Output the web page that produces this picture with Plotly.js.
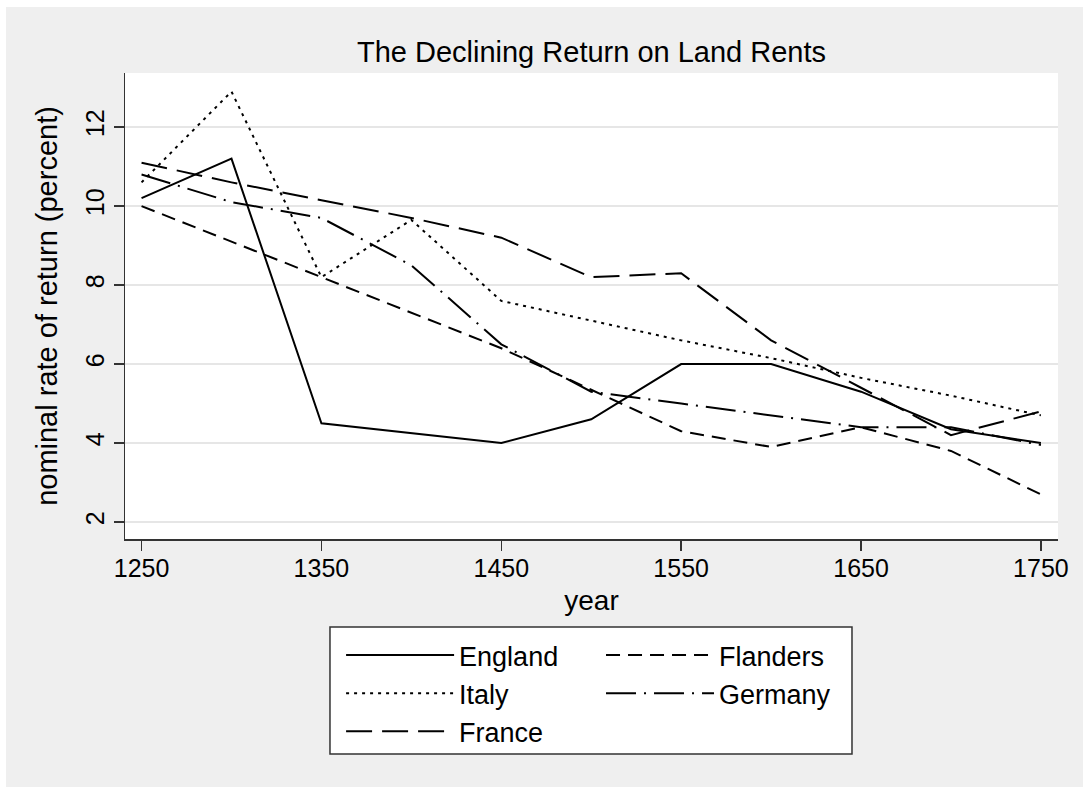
<!DOCTYPE html>
<html>
<head>
<meta charset="utf-8">
<script src="https://cdn.plot.ly/plotly-3.0.1.min.js"></script>
<style>
  html, body { margin: 0; padding: 0; background: #ffffff; }
  #chart { position: absolute; left: 6px; top: 7px; width: 1077px; height: 780px; }
</style>
</head>
<body>
<div id="chart"></div>
<script>
// ---- data ----
const years = [1250, 1300, 1350, 1400, 1450, 1500, 1550, 1600, 1650, 1700, 1750];

const englandYears = [1250, 1300, 1350, 1450, 1500, 1550, 1600, 1650, 1700, 1750];
const england      = [10.2, 11.2, 4.5, 4.0, 4.6, 6.0, 6.0, 5.3, 4.35, 4.0];

const flanders = [10.0, 9.1, 8.2, 7.3, 6.4, 5.35, 4.3, 3.9, 4.4, 3.8, 2.7];
const italy    = [10.6, 12.9, 8.2, 9.65, 7.6, 7.1, 6.6, 6.15, 5.65, 5.2, 4.7];
const germany  = [10.8, 10.1, 9.7, 8.5, 6.5, 5.3, 5.0, 4.7, 4.4, 4.4, 3.95];
const france   = [11.1, 10.6, 10.15, 9.7, 9.2, 8.2, 8.3, 6.6, 5.4, 4.2, 4.8];

const seriesNames = ["England", "Flanders", "Italy", "Germany", "France"];
const yTicks = [2, 4, 6, 8, 10, 12];
const xTicks = [1250, 1350, 1450, 1550, 1650, 1750];

const FONT = "Liberation Sans, Arial, Helvetica, sans-serif";

function mk(name, x, y, dash, legendId) {
  return {
    type: "scatter", mode: "lines", name: name, x: x, y: y,
    line: { color: "#000000", width: 2, dash: dash },
    legend: legendId,
    hoverinfo: "skip"
  };
}

// left legend column: England, Italy, France; right column: Flanders, Germany
const traces = [
  mk(seriesNames[0], englandYears, england, "solid", "legend"),
  mk(seriesNames[2], years, italy, "3px,5px", "legend"),
  mk(seriesNames[4], years, france, "26px,10px", "legend"),
  mk(seriesNames[1], years, flanders, "14px,8px", "legend2"),
  mk(seriesNames[3], years, germany, "30px,8px,2px,8px", "legend2")
];

const legendCommon = {
  orientation: "v",
  xref: "paper", yref: "paper",
  xanchor: "left", yanchor: "top",
  bgcolor: "rgba(0,0,0,0)", borderwidth: 0,
  font: { family: FONT, size: 27 },
  itemwidth: 108,
  tracegroupgap: 0,
  traceorder: "normal",
  itemclick: false, itemdoubleclick: false
};

const layout = {
  width: 1077, height: 780,
  paper_bgcolor: "#efefef",
  plot_bgcolor: "#ffffff",
  margin: { l: 119, r: 25, t: 66, b: 248 },
  font: { family: FONT, color: "#000000", size: 25 },
  title: {
    text: "The Declining Return on Land Rents",
    font: { family: FONT, size: 29, color: "#000000" },
    x: 0.5, xref: "paper", xanchor: "center",
    y: 1 - 45 / 780, yref: "container", yanchor: "middle"
  },
  xaxis: {
    range: [1240.8, 1759.5],
    tickvals: xTicks,
    ticktext: xTicks.map(String),
    ticks: "outside", ticklen: 10, tickwidth: 1.5, tickcolor: "#333333",
    ticklabelstandoff: -4,
    showline: true, linecolor: "#333333", linewidth: 1.5,
    showgrid: false, zeroline: false,
    tickfont: { family: FONT, size: 25 },
    title: { text: "year", font: { family: FONT, size: 28 }, standoff: 10 }
  },
  yaxis: {
    range: [1.57, 13.37],
    tickvals: yTicks,
    ticktext: yTicks.map(String),
    tickangle: -90,
    ticks: "outside", ticklen: 10, tickwidth: 1.5, tickcolor: "#333333",
    showline: true, linecolor: "#333333", linewidth: 1.5,
    showgrid: true, gridcolor: "#e6e6e6", gridwidth: 2,
    zeroline: false,
    tickfont: { family: FONT, size: 25 },
    title: { text: "nominal rate of return (percent)", font: { family: FONT, size: 29 }, standoff: 14 }
  },
  showlegend: true,
  legend: Object.assign({}, legendCommon, { x: 0.2316, y: -0.1974 }),
  legend2: Object.assign({}, legendCommon, { x: 0.5102, y: -0.1974 }),
  shapes: [{
    type: "rect", xref: "paper", yref: "paper",
    x0: 0.2197, x1: 0.7792, y0: -0.1888, y1: -0.4614,
    fillcolor: "#ffffff", line: { color: "#333333", width: 1.5 },
    layer: "above"
  }]
};

Plotly.newPlot("chart", traces, layout, { displayModeBar: false, staticPlot: true });
</script>
</body>
</html>
